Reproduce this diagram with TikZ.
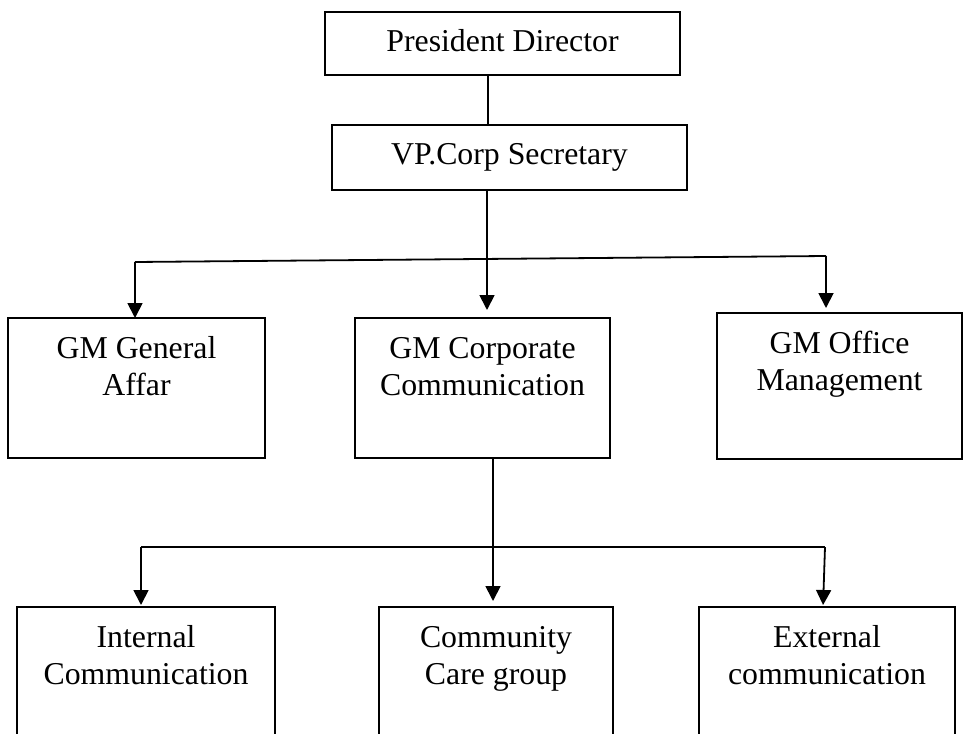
\documentclass[tikz,border=0pt]{standalone}
\usepackage{fontspec}
\setmainfont{Liberation Serif}
\usetikzlibrary{arrows.meta}
\newcommand\bxtext[3]{\parbox[c][#2][t]{#1}{\centering\rule{0pt}{40pt}#3\par}}
\begin{document}
\begin{tikzpicture}[x=1pt,y=-1pt,
  orgbox/.style={draw, line width=1.8pt, inner sep=0pt, outer sep=0pt, anchor=north west,
                 font=\fontsize{31.8}{37}\selectfont},
  conn/.style={line width=1.8pt},
  arr/.style={conn, -{Triangle[width=15pt,length=15pt]}}]
\useasboundingbox (0,0) rectangle (963,733);
\fill[white] (0,0) rectangle (963,733);

% boxes
\node[orgbox] (pres) at (325,12)  {\bxtext{355pt}{63pt}{President Director}};
\node[orgbox] (vp)   at (332,125) {\bxtext{355pt}{65pt}{VP.Corp Secretary}};
\node[orgbox] (gmga) at (8,318)   {\bxtext{257pt}{140pt}{GM General\\Affar}};
\node[orgbox] (gmcc) at (355,318) {\bxtext{255pt}{140pt}{GM Corporate\\Communication}};
\node[orgbox] (gmom) at (717,313) {\bxtext{245pt}{146pt}{GM Office\\Management}};
\node[orgbox] (ic)   at (17,607)  {\bxtext{258pt}{140pt}{Internal\\Communication}};
\node[orgbox] (ccg)  at (379,607) {\bxtext{234pt}{140pt}{Community\\Care group}};
\node[orgbox] (ec)   at (699,607) {\bxtext{256pt}{140pt}{External\\communication}};

% junction coordinates
\coordinate (a1)  at (488,0);
\coordinate (h1L) at (135,262);
\coordinate (h1M) at (487,258);
\coordinate (h1R) at (826,256);
\coordinate (h2L) at (141,547);
\coordinate (h2M) at (493,547);
\coordinate (h2R) at (825,547);
\coordinate (e2)  at (823,607);

% connectors
\draw[conn] (pres.south -| a1) -- (vp.north -| a1);
\draw[conn] (vp.south -| h1M) -- (h1M);
\draw[conn] (h1L) -- (h1R);
\draw[arr] (h1L) -- (gmga.north -| h1L);
\draw[arr, shorten >=8pt] (h1M) -- (gmcc.north -| h1M);
\draw[arr, shorten >=5pt] (h1R) -- (gmom.north -| h1R);

\draw[conn] (gmcc.south -| h2M) -- (h2M);
\draw[conn] (h2L) -- (h2R);
\draw[arr, shorten >=2pt] (h2L) -- (ic.north -| h2L);
\draw[arr, shorten >=6pt] (h2M) -- (ccg.north -| h2M);
\draw[arr, shorten >=2pt] (h2R) -- (e2);
\end{tikzpicture}
\end{document}
